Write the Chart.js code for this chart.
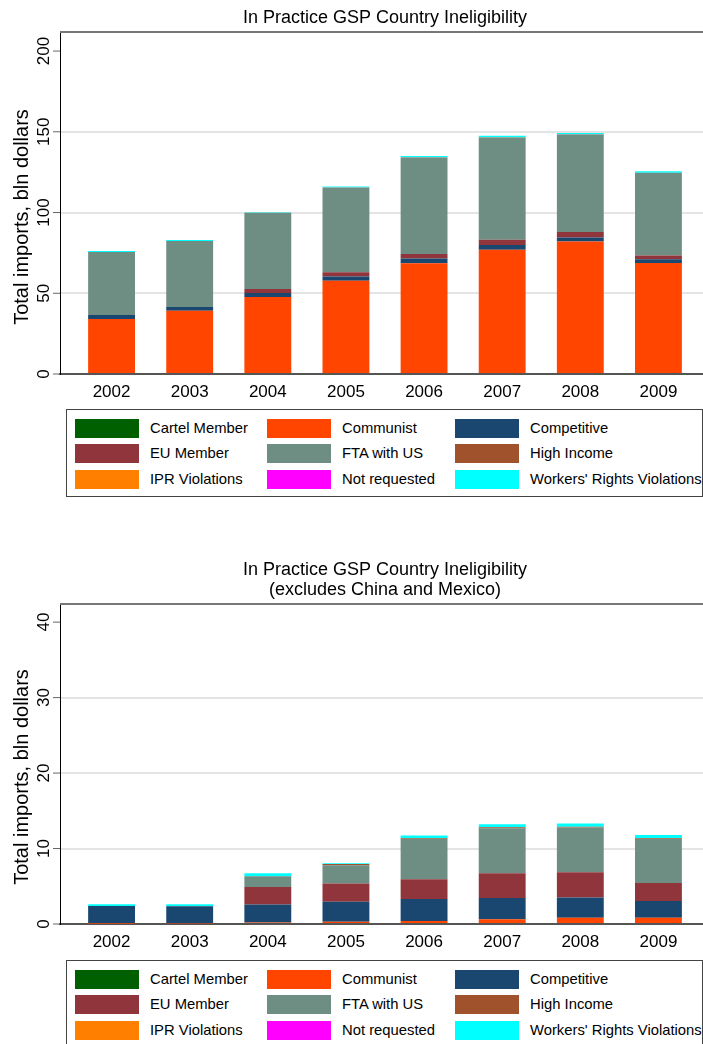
<!DOCTYPE html>
<html>
<head>
<meta charset="utf-8">
<title>In Practice GSP Country Ineligibility</title>
<script src="https://cdn.jsdelivr.net/npm/chart.js@4.4.1/dist/chart.umd.min.js"></script>
<style>
  html, body { margin: 0; padding: 0; background: #fff; overflow: hidden; width: 703px; height: 1044px; }
  .panel { position: absolute; left: 0; }
  canvas { display: block; }
  .legend {
    position: absolute; left: 66px; width: 637px; height: 88px; box-sizing: border-box;
    border: 1px solid #444; background: #fff;
    font-family: "Liberation Sans", Arial, sans-serif; font-size: 14.8px; color: #000;
  }
  .item { position: absolute; display: flex; align-items: center; height: 20px; white-space: nowrap; }
  .sw { width: 64px; height: 19px; margin-right: 11px; flex: none; }
</style>
</head>
<body>
<div class="panel" style="top:0px"><canvas id="chartAll" width="710" height="405"></canvas></div>
<div class="legend" id="legendAll" style="top:409px"></div>
<div class="panel" style="top:550px"><canvas id="chartEx" width="710" height="405"></canvas></div>
<div class="legend" id="legendEx" style="top:960px"></div>

<script>
// Years on the horizontal axis
const years = [2002, 2003, 2004, 2005, 2006, 2007, 2008, 2009];

// Reasons for ineligibility (stacking order, bottom to top)
const seriesNames = ['Cartel Member', 'Communist', 'Competitive', 'EU Member', 'FTA with US',
                     'High Income', 'IPR Violations', 'Not requested', "Workers' Rights Violations"];
const seriesColors = ['#006000', '#ff4500', '#1a476f', '#90353b', '#6e8e84',
                      '#a0522d', '#ff8000', '#ff00ff', '#00ffff'];

// Total imports, bln dollars -- all ineligible countries
const allCartel     = [0, 0, 0, 0, 0, 0, 0, 0];
const allCommunist  = [34.1, 39.2, 47.7, 57.8, 68.6, 77.0, 82.0, 68.8];
const allCompetitive= [2.4, 2.3, 2.5, 2.6, 2.9, 2.9, 2.6, 2.3];
const allEU         = [0, 0, 2.4, 2.6, 2.8, 3.2, 3.4, 2.3];
const allFTA        = [39.1, 40.9, 47.2, 52.3, 59.8, 63.4, 60.3, 51.2];
const allHighIncome = [0, 0, 0, 0.15, 0.1, 0.12, 0.1, 0.1];
const allIPR        = [0, 0, 0, 0, 0, 0, 0, 0];
const allNotReq     = [0, 0, 0, 0, 0, 0, 0, 0];
const allWorkers    = [0.6, 0.6, 0.4, 0.6, 0.8, 0.9, 0.9, 0.8];

// Total imports, bln dollars -- excluding China and Mexico
const exCartel      = [0, 0, 0, 0, 0, 0, 0, 0];
const exCommunist   = [0.04, 0.08, 0.2, 0.3, 0.4, 0.62, 0.83, 0.83];
const exCompetitive = [2.33, 2.28, 2.4, 2.65, 2.9, 2.81, 2.69, 2.21];
const exEU          = [0, 0, 2.3, 2.43, 2.64, 3.31, 3.35, 2.38];
const exFTA         = [0.03, 0.03, 1.44, 2.42, 5.36, 5.96, 5.9, 5.88];
const exHighIncome  = [0, 0, 0, 0.15, 0.1, 0.12, 0.1, 0.1];
const exIPR         = [0, 0, 0, 0, 0, 0, 0, 0];
const exNotReq      = [0, 0, 0, 0, 0, 0, 0, 0];
const exWorkers     = [0.22, 0.22, 0.4, 0.1, 0.32, 0.4, 0.44, 0.4];

const allSeries = [allCartel, allCommunist, allCompetitive, allEU, allFTA, allHighIncome, allIPR, allNotReq, allWorkers];
const exSeries  = [exCartel, exCommunist, exCompetitive, exEU, exFTA, exHighIncome, exIPR, exNotReq, exWorkers];

const FONT = '"Liberation Sans", Arial, Helvetica, sans-serif';
const yTitle = 'Total imports, bln dollars';

// Draws the titles, the plot frame top and the vertical y tick labels
const decorations = {
  id: 'decorations',
  afterDraw(chart, args, opts) {
    const ctx = chart.ctx;
    const area = chart.chartArea;
    const ys = chart.scales.y;
    ctx.save();

    // top edge of the plot region
    ctx.strokeStyle = '#777';
    ctx.lineWidth = 2;
    ctx.beginPath();
    ctx.moveTo(area.left, area.top);
    ctx.lineTo(area.right, area.top);
    ctx.stroke();

    // y ticks: short marks and rotated labels
    ctx.fillStyle = '#000';
    ctx.font = '17px ' + FONT;
    ctx.textAlign = 'center';
    ctx.textBaseline = 'middle';
    ys.ticks.forEach(t => {
      const py = ys.getPixelForValue(t.value);
      ctx.strokeStyle = '#666';
      ctx.lineWidth = 1;
      ctx.beginPath();
      ctx.moveTo(area.left - 7, py);
      ctx.lineTo(area.left, py);
      ctx.stroke();
      ctx.save();
      ctx.translate(area.left - 16, py);
      ctx.rotate(-Math.PI / 2);
      ctx.fillText(String(t.value), 0, 0);
      ctx.restore();
    });

    // y axis title
    ctx.save();
    ctx.font = '20px ' + FONT;
    ctx.translate(22, (area.top + area.bottom) / 2 + opts.titleShift);
    ctx.rotate(-Math.PI / 2);
    ctx.fillText(yTitle, 0, 0);
    ctx.restore();

    // chart title
    ctx.font = '18px ' + FONT;
    const cx = (area.left + area.right) / 2;
    opts.title.forEach((line, i) => ctx.fillText(line, cx, opts.titleY + i * 20));
    ctx.restore();
  }
};

function buildChart(id, series, yMax, yStep, topTick, titleLines, padTop, titleY, titleShift) {
  const datasets = series.map((vals, i) => ({
    label: seriesNames[i],
    data: vals.map((v, j) => ({ x: years[j], y: v })),
    backgroundColor: seriesColors[i],
    borderWidth: 0,
    barPercentage: 0.6,
    categoryPercentage: 1.0
  }));
  return new Chart(document.getElementById(id), {
    type: 'bar',
    data: { datasets },
    plugins: [decorations],
    options: {
      responsive: false,
      animation: false,
      layout: { padding: { top: padTop, left: 0, right: 0, bottom: 0 } },
      plugins: {
        legend: { display: false },
        title: { display: false },
        tooltip: { enabled: false },
        decorations: { title: titleLines, titleY: titleY, titleShift: titleShift }
      },
      scales: {
        x: {
          type: 'linear',
          stacked: true,
          offset: false,
          min: 2001.34,
          max: 2009.66,
          afterFit(s) { s.height = 31; },
          grid: { display: false, drawTicks: false, offset: false },
          border: { display: true, color: '#555', width: 2 },
          ticks: {
            stepSize: 1,
            includeBounds: false,
            padding: 8,
            color: '#000',
            font: { family: FONT, size: 17 },
            callback: v => years.includes(v) ? String(v) : ''
          }
        },
        y: {
          stacked: true,
          min: 0,
          max: yMax,
          afterFit(s) { s.width = 60; },
          grid: {
            drawTicks: false,
            lineWidth: 2,
            color: c => (c.tick && c.tick.value > 0 && c.tick.value < topTick) ? '#e4e4e4' : 'rgba(0,0,0,0)'
          },
          border: { display: true, color: '#000', width: 1 },
          ticks: { display: false, stepSize: yStep, includeBounds: false }
        }
      }
    }
  });
}

function buildLegend(id) {
  const box = document.getElementById(id);
  const colLeft = [8, 200, 388];
  const rowTop = [8, 33, 59];
  seriesNames.forEach((name, i) => {
    const item = document.createElement('div');
    item.className = 'item';
    item.style.left = colLeft[i % 3] + 'px';
    item.style.top = rowTop[Math.floor(i / 3)] + 'px';
    const sw = document.createElement('span');
    sw.className = 'sw';
    sw.style.background = seriesColors[i];
    const tx = document.createElement('span');
    tx.textContent = name;
    item.appendChild(sw);
    item.appendChild(tx);
    box.appendChild(item);
  });
}

buildChart('chartAll', allSeries, 211.8, 50, 200, ['In Practice GSP Country Ineligibility'], 32, 18, 14);
buildChart('chartEx', exSeries, 42.4, 10, 40,
  ['In Practice GSP Country Ineligibility', '(excludes China and Mexico)'], 54, 20, 13);
buildLegend('legendAll');
buildLegend('legendEx');
</script>
</body>
</html>
